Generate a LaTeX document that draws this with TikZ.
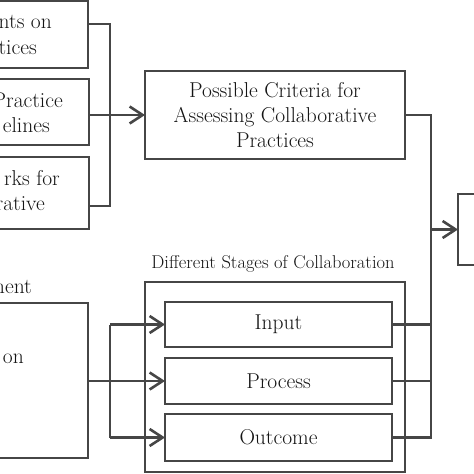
\documentclass[tikz,border=0pt]{standalone}
\usetikzlibrary{arrows.meta}
\definecolor{ln}{RGB}{70,70,70}
\definecolor{tx}{RGB}{20,20,20}
\begin{document}
\begin{tikzpicture}[x=1pt,y=-1pt,
  box/.style={draw=ln, line width=2.6pt, inner sep=0pt, outer sep=0pt, text=tx, align=center, font=\fontsize{21.5}{25}\selectfont},
  frag/.style={text=tx, inner sep=0pt, font=\fontsize{21.5}{25}\selectfont, anchor=base east},
  conn/.style={draw=ln, line width=2.6pt},
  arr/.style={conn, -{Straight Barb[length=13pt,width=17pt]}}]
\useasboundingbox (0,0) rectangle (474,474);
\clip (0,0) rectangle (474,474);
% left boxes
\node[box, minimum width=110pt, minimum height=67pt] (b1) at (33,34.5) {};
\node[box, minimum width=110pt, minimum height=66pt] (b2) at (34,112) {};
\node[box, minimum width=110pt, minimum height=72pt] (b3) at (34,193) {};
\node[box, minimum width=110pt, minimum height=155pt] (bl) at (33,380.5) {};
% visible text fragments
\node[frag] (t1a) at (52,28.5) {nts on};
\node[frag] (t1b) at (37,54) {ctices};
\node[frag] (t2a) at (63,107) {Practice};
\node[frag] (t2b) at (50,132.5) {elines};
\node[frag] (t3a) at (60,185) {rks for};
\node[frag] (t3b) at (45,210) {rative};
\node[frag] (t4a) at (32,293) {ment};
\node[frag] (t4b) at (24,363) {on};
% main boxes
\node[box, minimum width=260pt, minimum height=88pt] (crit) at (275,115) {Possible Criteria for\\Assessing Collaborative\\Practices};
\node[box, minimum width=44pt, minimum height=71pt] (R) at (480,229.5) {};
\node[box, minimum width=260pt, minimum height=190pt] (stage) at (275,377) {};
\node[text=tx, inner sep=0pt, anchor=base, font=\fontsize{18.5}{21}\selectfont] (slab) at (273,268) {Different Stages of Collaboration};
\node[box, minimum width=227pt, minimum height=45pt] (in) at (278.5,324.5) {Input};
\node[box, minimum width=227pt, minimum height=46pt] (pr) at (278.5,381) {Process};
\node[box, minimum width=227pt, minimum height=47pt] (oc) at (278.5,437.5) {Outcome};
% connectors
\coordinate (j1) at (110,24);
\coordinate (j3) at (110,206);
\coordinate (ltrunk) at (110,0);
\coordinate (trunk) at (431,0);
\draw[conn] (b1.east |- j1) -- (j1) -- (j3) -- (b3.east |- j3);
\draw[arr] (b2.east |- crit.west) -- (crit.west);
\draw[conn] (crit.east) -- (crit.east -| trunk) -- (oc.east -| trunk) -- (oc.east);
\draw[conn] (in.east) -- (in.east -| trunk);
\draw[conn] (pr.east) -- (pr.east -| trunk);
\draw[arr] (R.west -| trunk) -- (R.west);
\draw[conn] (bl.east |- pr.west) -- (pr.west -| ltrunk);
\draw[conn] (in.west -| ltrunk) -- (oc.west -| ltrunk);
\draw[arr] (in.west -| ltrunk) -- (in.west);
\draw[arr] (pr.west -| ltrunk) -- (pr.west);
\draw[arr] (oc.west -| ltrunk) -- (oc.west);
\end{tikzpicture}
\end{document}
